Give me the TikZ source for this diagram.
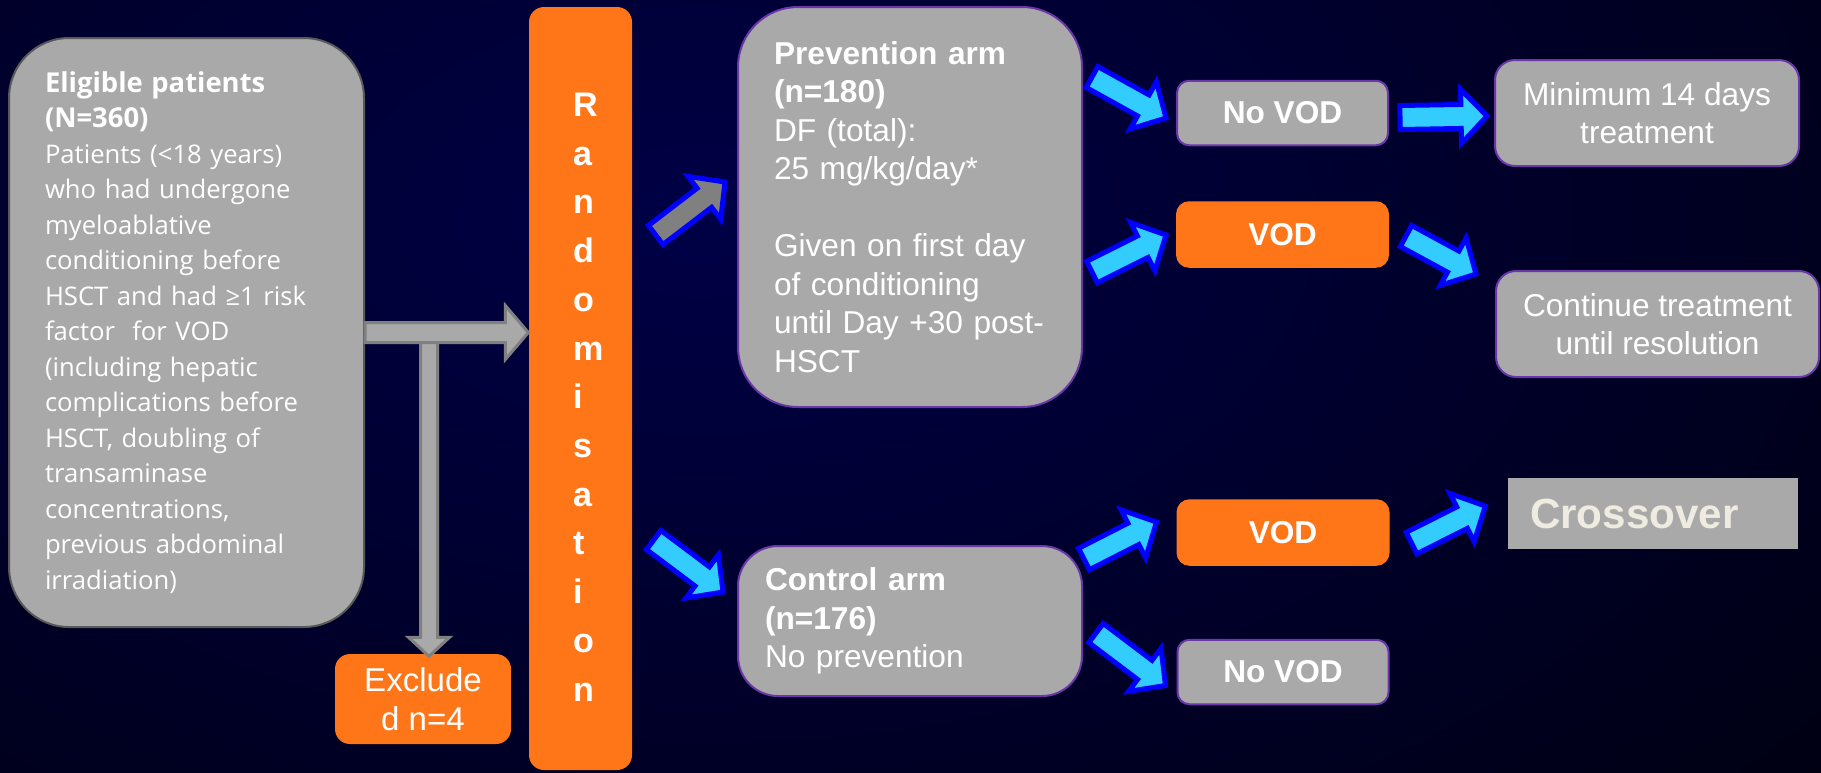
\documentclass[tikz,border=0pt]{standalone}
\usepackage{fontspec}
\setmainfont{Liberation Sans}
\newfontfamily\eligfont{Open Sans}
\usetikzlibrary{calc}
\usetikzlibrary{positioning}

\definecolor{boxgray}{HTML}{A9A9A9}
\definecolor{boxline}{HTML}{6A36A8}
\definecolor{vodorange}{HTML}{FF7619}
\definecolor{arrowcyan}{HTML}{33CCFF}
\definecolor{arrowblue}{HTML}{0000FF}
\definecolor{arrowgray}{HTML}{808080}
\definecolor{bgnavy}{HTML}{000046}
\definecolor{crosstext}{HTML}{EEECE1}

\newcommand{\boxfont}{\fontsize{9}{10.95}\selectfont}
\newcommand{\eligtitle}[1]{{\fontsize{7.8}{10.1}\selectfont\bfseries #1}}
\newcommand{\shaftw}{1.2mm}
\newcommand{\headw}{2.7mm}
\newcommand{\headlen}{2.6mm}
% block arrow from #2 to #3
\newcommand{\fatarrow}[3][]{%
	\coordinate (fa-t) at (#2);
	\coordinate (fa-p) at (#3);
	\coordinate (fa-h) at ($(fa-p)!\headlen!(fa-t)$);
	\draw[#1] ($(fa-t)!\shaftw!90:(fa-p)$) -- ($(fa-h)!\shaftw!-90:(fa-t)$)
		-- ($(fa-h)!\headw!-90:(fa-t)$) -- (fa-p) -- ($(fa-h)!\headw!90:(fa-t)$)
		-- ($(fa-h)!\shaftw!90:(fa-t)$) -- ($(fa-t)!\shaftw!-90:(fa-p)$) -- cycle;}

\begin{document}
\begin{tikzpicture}[x=0.1mm, y=-0.1mm, line join=miter,                    % pixel grid, y going down
	every node/.style = {font=\boxfont, text=white},
	bigbox/.style = {draw=boxline, line width=0.2mm, fill=boxgray,
	                 rounded corners=6mm, align=left},
	smallbox/.style = {draw=boxline, line width=0.2mm, fill=boxgray, rounded corners=1.2mm,
	                   minimum width=21.1mm, minimum height=6.45mm, font=\boxfont\bfseries},
	vodbox/.style = {smallbox, draw=vodorange, fill=vodorange},
	randbox/.style = {fill=vodorange, rounded corners=1.5mm},
	bluearrow/.style = {draw=arrowblue, fill=arrowcyan, line width=0.5mm},
	grayarrow/.style = {draw=arrowgray, fill=boxgray, line width=0.3mm}]

	\useasboundingbox (0,0) rectangle (1821,772);
	\begin{scope}
		\clip (0,0) rectangle (1821,772);
		\fill[black] (0,0) rectangle (1821,772);
		\shade[inner color=bgnavy, outer color=black] (700,220) ellipse [x radius=200mm, y radius=120mm];
	\end{scope}

	\node[bigbox, draw=gray!70!black, text width=28.3mm, inner xsep=3.6mm, minimum height=58.9mm,
	      font=\eligfont\fontsize{7.3}{10.1}\selectfont] (elig) at (186.5,332.5)
		{\eligtitle{Eligible patients}\\
		 \eligtitle{(N=360)}\\
		 Patients (<18 years)\\
		 who had undergone\\
		 myeloablative\\
		 conditioning before\\
		 HSCT and had ≥1 risk\\
		 factor\ \ for VOD\\
		 (including hepatic\\
		 complications before\\
		 HSCT, doubling of\\
		 transaminase\\
		 concentrations,\\
		 previous abdominal\\
		 irradiation)};

	\node[randbox, minimum width=10.3mm, minimum height=76.3mm] (rand) at (580.5,388.5) {};
	\node[anchor=north west, inner sep=0pt, align=left, font=\fontsize{9.7}{13.86}\selectfont\bfseries]
		(randtext) at ([shift={(44,86)}]rand.north west) {R\\a\\n\\d\\o\\m\\i\\s\\a\\t\\i\\o\\n};

	\node[fill=vodorange, rounded corners=1.5mm, align=center, minimum width=17.6mm, minimum height=9mm,
	      font=\fontsize{9.4}{11.1}\selectfont] (excl) at (423,699) {Exclude\\d n=4};

	\node[bigbox, text width=27.2mm, inner xsep=3.6mm, minimum height=40mm] (prev) at (910,207)
		{\textbf{Prevention arm}\\
		 \textbf{(n=180)}\\
		 DF (total):\\
		 25 mg/kg/day*\\[10.95pt]
		 Given on first day\\
		 of conditioning\\
		 until Day +30 post-\\
		 HSCT};
	\node[bigbox, rounded corners=4mm, text width=29mm, inner xsep=2.7mm, minimum height=15mm] (ctrl) at (910,621)
		{\textbf{Control arm}\\
		 \textbf{(n=176)}\\
		 No prevention};

	\node[smallbox] (novodA) at (1282.5,113) {No VOD};
	\node[vodbox, below=5.5mm of novodA] (vodA) {VOD};
	\node[vodbox] (vodB) at (1283,532.5) {VOD};
	\node[smallbox, below=7.3mm of vodB] (novodB) {No VOD};

	\node[bigbox, rounded corners=2mm, align=center, minimum width=30.4mm, minimum height=10.6mm,
	      right=10.5mm of novodA] (mintreat) {Minimum 14 days\\treatment};
	\node[bigbox, rounded corners=2mm, align=center, minimum width=32.3mm, minimum height=10.6mm]
		(contin) at (1657.5,324) {Continue treatment\\until resolution};
	\node[fill=boxgray, text=crosstext, font=\fontsize{12}{14}\selectfont\bfseries, align=left,
	      text width=24.6mm, inner xsep=2.2mm, minimum height=7.1mm] (cross) at (1653,513.5) {Crossover};

	% eligible -> randomisation / excluded
	\begin{scope}
		\renewcommand{\shaftw}{0.85mm}\renewcommand{\headw}{2.05mm}\renewcommand{\headlen}{1.9mm}
		\fatarrow[grayarrow]{$(excl.north |- elig.east)+(6,0)$}{$(excl.north)+(6,3)$}
		\renewcommand{\shaftw}{1mm}\renewcommand{\headw}{2.7mm}\renewcommand{\headlen}{2.3mm}
		\fatarrow[grayarrow]{elig.east}{rand.west |- elig.east}
	\end{scope}

	% the two arms
	\fatarrow[bluearrow, fill=arrowgray]{$(rand.east)+(23,-153.5)$}{$(prev.west)+(-12,-25)$}
	\fatarrow[bluearrow]{$(rand.east)+(21,151.5)$}{$(ctrl.west)+(-14,-29)$}

	% outcomes
	\fatarrow[bluearrow]{$(prev.east)+(9,-130)$}{$(novodA.west)+(-10,5)$}
	\fatarrow[bluearrow]{$(prev.east)+(9,65)$}{$(vodA.west)+(-10,0.5)$}
	\fatarrow[bluearrow]{$(novodA.east)+(11,4.5)$}{$(mintreat.west)+(-7,3)$}
	\fatarrow[bluearrow]{$(vodA.east)+(17,1.5)$}{$(contin.north west)+(-19,4)$}
	\fatarrow[bluearrow]{$(ctrl.east)+(1,-62)$}{$(vodB.west)+(-20,-10.5)$}
	\fatarrow[bluearrow]{$(ctrl.east)+(13,12)$}{$(novodB.west)+(-11,13.5)$}
	\fatarrow[bluearrow]{$(vodB.east)+(22,10.5)$}{$(cross.west)+(-22,-7.5)$}
\end{tikzpicture}
\end{document}
